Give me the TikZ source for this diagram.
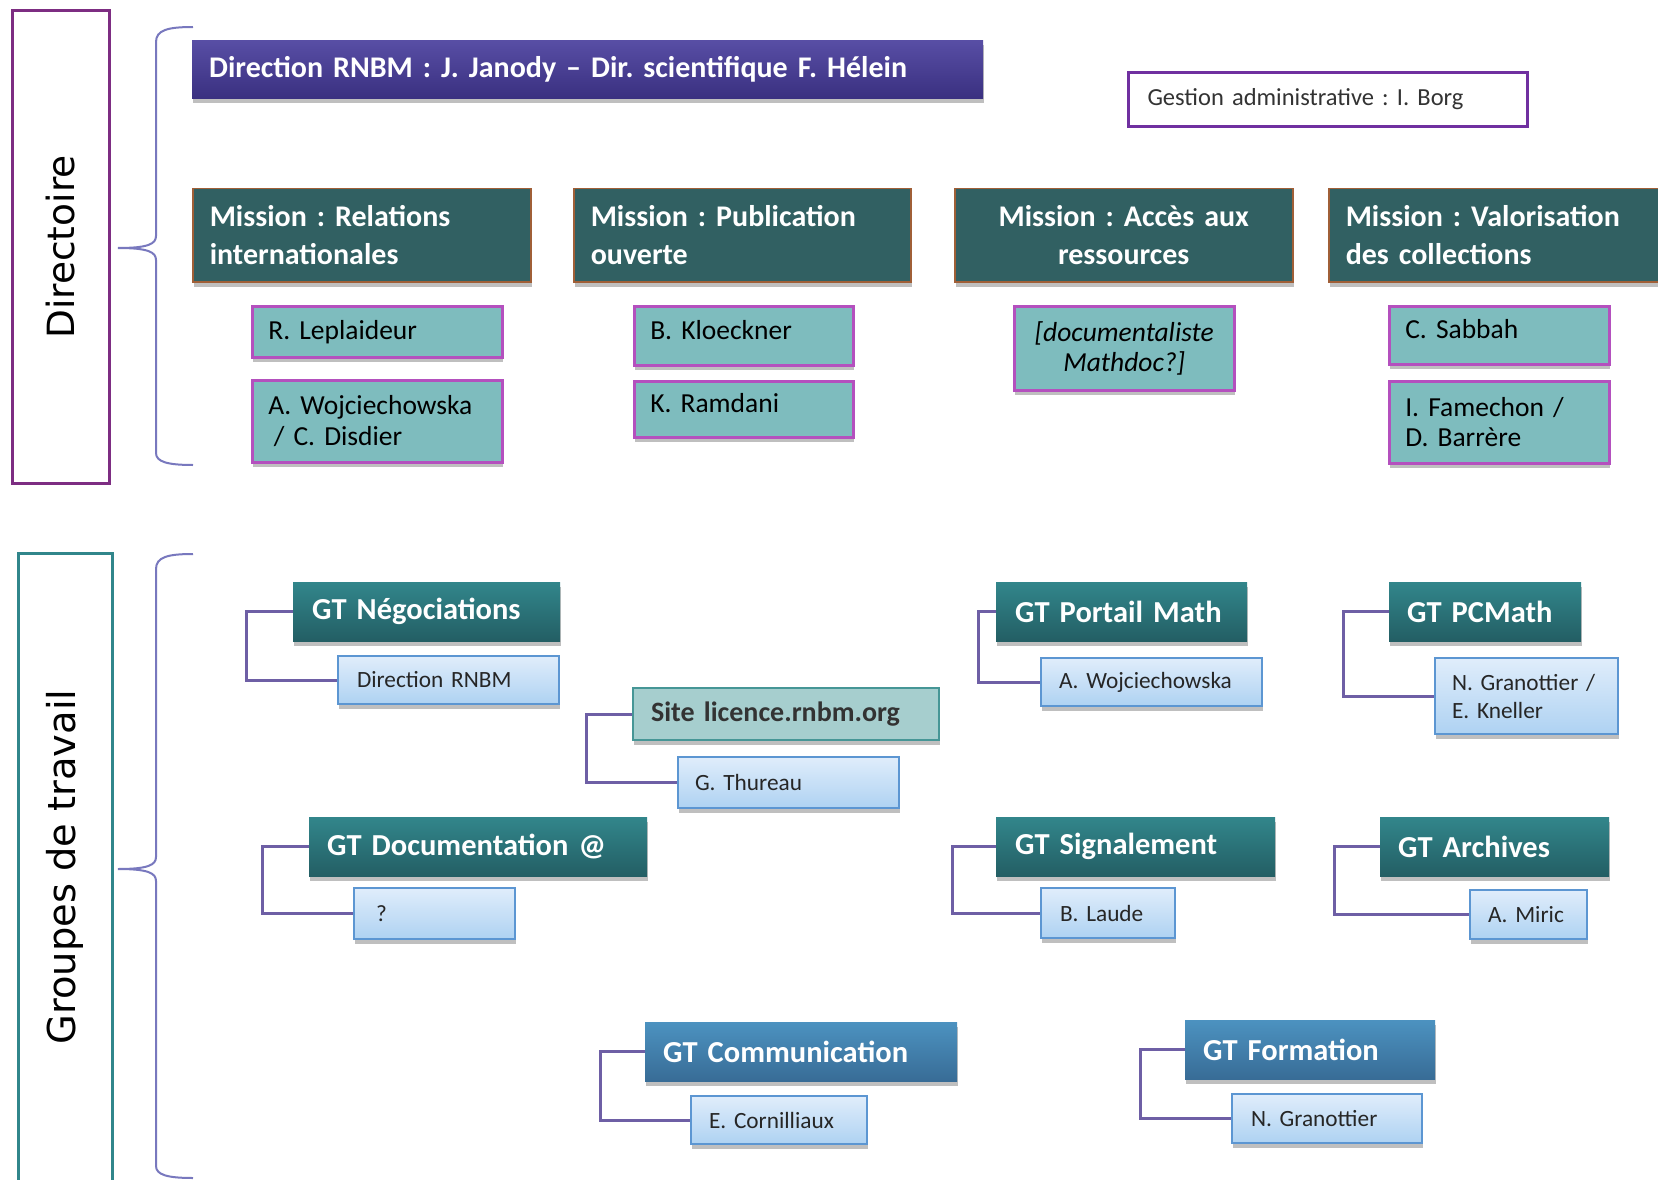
\documentclass[tikz,border=0pt]{standalone}
\usepackage{fontspec}
\setmainfont{Carlito}
\newfontfamily\dejavu{DejaVu Sans}
\usetikzlibrary{shadows}
\definecolor{dirframe}{RGB}{125,45,130}
\definecolor{gtframe}{RGB}{49,134,139}
\definecolor{dirtop}{RGB}{88,78,165}
\definecolor{dirbot}{RGB}{58,48,128}
\definecolor{gestframe}{RGB}{112,48,160}
\definecolor{missfill}{RGB}{49,96,98}
\definecolor{missframe}{RGB}{160,95,55}
\definecolor{persfill}{RGB}{126,188,190}
\definecolor{persframe}{RGB}{180,80,190}
\definecolor{gttop}{RGB}{50,134,139}
\definecolor{gtbot}{RGB}{35,94,100}
\definecolor{bluetop}{RGB}{76,146,192}
\definecolor{bluebot}{RGB}{56,108,150}
\definecolor{subtop}{RGB}{224,237,251}
\definecolor{subbot}{RGB}{174,210,242}
\definecolor{subframe}{RGB}{92,150,210}
\definecolor{sitefill}{RGB}{166,206,206}
\definecolor{siteframe}{RGB}{70,150,150}
\definecolor{connc}{RGB}{110,95,165}
\definecolor{bracec}{RGB}{120,120,190}
\newcommand\bx[8]{\node[#2, inner xsep=#3pt, inner ysep=0pt, minimum width={#6-#4}, minimum height={#7-#5}, text width={(#6-#4-2*#3)*1pt}, anchor=north west] (#1) at (#4,#5) {#8};}
\newcommand\upby[1]{\raisebox{6pt}[\height][\depth]{#1}}
\begin{document}
\frenchspacing
\begin{tikzpicture}[x=1pt,y=-1pt,
  shad/.style={drop shadow={shadow xshift=1pt, shadow yshift=-5pt, fill=black, opacity=0.25}},
  sidebox/.style={draw, line width=3pt, rotate=90, font=\dejavu\fontsize{37.5}{40}\selectfont, inner sep=0pt},
  dirbox/.style={shad, top color=dirtop, bottom color=dirbot, text=white, align=left, font=\fontsize{30}{34}\selectfont\bfseries},
  gestbox/.style={draw=gestframe, line width=3pt, fill=white, text=black!80, align=left, font=\fontsize{24.5}{28}\selectfont},
  missbox/.style={shad, fill=missfill, draw=missframe, line width=1.5pt, text=white, align=left, font=\fontsize{30}{38}\selectfont\bfseries},
  persbox/.style={shad, fill=persfill, draw=persframe, line width=2.5pt, text=black, align=left, font=\fontsize{27.5}{30.5}\selectfont},
  gtbox/.style={shad, top color=gttop, bottom color=gtbot, text=white, align=left, font=\fontsize{30.5}{34}\selectfont\bfseries},
  gtblue/.style={shad, top color=bluetop, bottom color=bluebot, text=white, align=left, font=\fontsize{30.5}{34}\selectfont\bfseries},
  sitebox/.style={shad, fill=sitefill, draw=siteframe, line width=2pt, text=black!80, align=left, font=\fontsize{28}{32}\selectfont\bfseries},
  subbox/.style={shad, top color=subtop, bottom color=subbot, draw=subframe, line width=2pt, text=black!85, align=left, font=\fontsize{23.3}{28}\selectfont},
  conn/.style={draw=connc, line width=3pt},
  bracel/.style={draw=bracec, line width=2pt}]
\useasboundingbox (0,0) rectangle (1658,1180);
\clip (0,0) rectangle (1658,1180);
\fill[white] (0,0) rectangle (1658,1180);

% side labels
\node[sidebox, draw=dirframe, minimum width=473, minimum height=97] (dirlab) at (61,247) {Directoire};
\node[sidebox, draw=gtframe, minimum width=628, minimum height=94, font=\dejavu\fontsize{38.4}{40}\selectfont] (gtlab) at (65,867) {Groupes de travail};

% braces
\draw[bracel] (193,27) .. controls (168,27) and (156,30) .. (156,42) -- (156,236) .. controls (156,244) and (148,248) .. (118,248) .. controls (148,248) and (156,252) .. (156,260) -- (156,453) .. controls (156,462) and (168,465) .. (193,465);
\draw[bracel] (193,554) .. controls (168,554) and (156,557) .. (156,569) -- (156,857) .. controls (156,865) and (148,869) .. (118,869) .. controls (148,869) and (156,873) .. (156,881) -- (156,1166) .. controls (156,1175) and (168,1178) .. (193,1178);

% Directoire
\bx{dir}{dirbox}{17}{192}{40}{983}{98}{Direction RNBM : J. Janody -- Dir. scientifique F. Hélein}
\bx{gest}{gestbox}{19}{1127}{71}{1526}{125}{Gestion administrative : I. Borg}
\bx{m1}{missbox}{17}{192}{188}{530}{281}{Mission : Relations\\internationales}
\bx{m2}{missbox}{17}{573}{188}{910}{281}{Mission : Publication\\ouverte}
\bx{m3}{missbox,align=center}{17}{954}{188}{1292}{281}{Mission : Accès aux\\ressources}
\bx{m4}{missbox}{17}{1328}{188}{1672}{281}{Mission : Valorisation\\des collections}
\bx{p1}{persbox}{16}{251}{305}{501}{356}{R. Leplaideur}
\bx{p2}{persbox}{16}{251}{379}{501}{461}{A. Wojciechowska\\\hspace*{0.2em}/ C. Disdier}
\bx{p3}{persbox}{16}{633}{305}{852}{364}{\upby{B. Kloeckner}}
\bx{p4}{persbox}{16}{633}{380}{852}{436}{\upby{K. Ramdani}}
\bx{p5}{persbox,align=center,font=\fontsize{27.5}{30.5}\selectfont\itshape}{8}{1013}{305}{1233}{389}{[documentaliste\\Mathdoc?]}
\bx{p6}{persbox}{16}{1388}{305}{1608}{363}{\upby{C. Sabbah}}
\bx{p7}{persbox}{16}{1388}{380}{1608}{462}{I. Famechon /\\D. Barrère}

% Groupes de travail
\bx{g1}{gtbox}{19}{293}{582}{560}{641}{GT Négociations}
\bx{s1}{subbox}{19}{337}{655}{558}{703}{Direction RNBM}
\bx{g2}{sitebox}{18}{632}{687}{938}{739}{Site licence.rnbm.org}
\bx{s2}{subbox}{17}{677}{756}{898}{807}{G. Thureau}
\bx{g3}{gtbox}{18}{309}{817}{647}{876}{GT Documentation @}
\bx{s3}{subbox}{22}{353}{887}{514}{938}{?}
\bx{g4}{gtbox}{19}{996}{582}{1247}{641}{GT Portail Math}
\bx{s4}{subbox}{18}{1040}{657}{1261}{705}{A. Wojciechowska}
\bx{g5}{gtbox}{18}{1389}{582}{1581}{641}{GT PCMath}
\bx{s5}{subbox}{17}{1434}{657}{1617}{733}{N. Granottier /\\E. Kneller}
\bx{g6}{gtbox}{19}{996}{817}{1275}{876}{GT Signalement}
\bx{s6}{subbox}{19}{1040}{887}{1174}{937}{B. Laude}
\bx{g7}{gtbox}{18}{1380}{817}{1609}{876}{GT Archives}
\bx{s7}{subbox}{18}{1469}{889}{1586}{938}{A. Miric}
\bx{g8}{gtblue}{18}{645}{1022}{957}{1081}{GT Communication}
\bx{s8}{subbox}{18}{690}{1095}{866}{1143}{E. Cornilliaux}
\bx{g9}{gtblue}{18}{1185}{1020}{1435}{1079}{GT Formation}
\bx{s9}{subbox}{19}{1231}{1093}{1421}{1142}{N. Granottier}

% connectors
\draw[conn] (g1.west) -- ++(-47,0) |- (s1.west);
\draw[conn] (g2.west) -- ++(-46,0) |- (s2.west);
\draw[conn] (g3.west) -- ++(-47,0) |- (s3.west);
\draw[conn] (g4.west) -- ++(-18,0) |- (s4.west);
\draw[conn] (g5.west) -- ++(-46,0) |- (s5.west);
\draw[conn] (g6.west) -- ++(-44,0) |- (s6.west);
\draw[conn] (g7.west) -- ++(-46,0) |- (s7.west);
\draw[conn] (g8.west) -- ++(-45,0) |- (s8.west);
\draw[conn] (g9.west) -- ++(-45,0) |- (s9.west);
\end{tikzpicture}
\end{document}
